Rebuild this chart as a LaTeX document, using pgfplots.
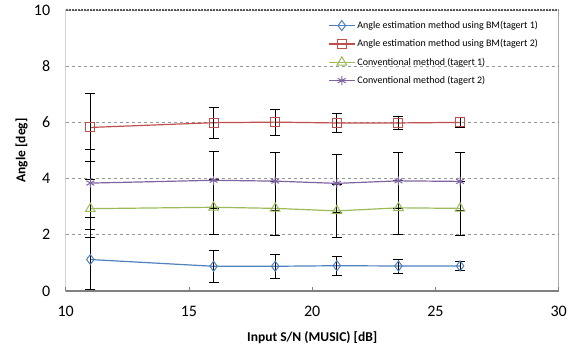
\documentclass[border=0pt]{standalone}
\usepackage{pgfplots}
\pgfplotsset{compat=1.18}
\usepackage{fontspec}
\setmainfont{Carlito}
\definecolor{cblue}{HTML}{4F81BD}
\definecolor{cred}{HTML}{C0504D}
\definecolor{cgreen}{HTML}{9BBB59}
\definecolor{cpurple}{HTML}{8064A2}
\definecolor{gridc}{HTML}{969696}
\definecolor{axc}{HTML}{808080}
\begin{document}
\begin{tikzpicture}
\begin{axis}[
  scale only axis,
  width=493pt, height=281pt,
  xmin=10, xmax=30, ymin=0, ymax=10,
  xtick={10,15,20,25,30}, ytick={0,2,4,6,8,10},
  axis line style={draw=none},
  ymajorgrids,
  grid style={gridc, dash pattern=on 3pt off 3pt, line width=0.8pt},
  x tick style={axc, line width=0.8pt},
  xtick pos=bottom, tick align=inside,
  major tick length=4pt,
  y tick style={draw=none},
  ticklabel style={font=\fontsize{16}{19}\selectfont},
  /pgf/number format/assume math mode=true,
  xticklabel style={yshift=-12pt},
  yticklabel style={xshift=-12pt},
  xlabel={\textbf{Input S/N (MUSIC) [dB]}},
  ylabel={\textbf{Angle [deg]}},
  label style={font=\fontsize{13.5}{16}\selectfont},
  xlabel style={at={(axis description cs:0.5,0)}, anchor=center, yshift=-46.7pt},
  ylabel style={at={(axis description cs:0,0.5)}, anchor=center, rotate=0, yshift=44pt},
  legend style={draw=none, fill=none, at={(rel axis cs:0.526,0.975)}, anchor=north west,
    font=\fontsize{10}{12}\selectfont, row sep=5.5pt},
  legend cell align=left,
  legend image code/.code={\draw[#1] (0pt,0pt) -- (26pt,0pt); \draw[#1, only marks] plot coordinates {(13pt,0pt)};},
  every axis plot/.append style={line width=1.2pt},
  error bars/y dir=both, error bars/y explicit,
  error bars/error bar style={black, line width=0.9pt, solid},
  error bars/error mark options={rotate=90, mark size=5pt, black, line width=0.9pt},
]
\addplot[cblue, mark=diamond, mark size=5pt, mark options={solid, fill=none, line width=1pt}]
  coordinates {(11,1.12) +- (0,1.07) (16,0.88) +- (0,0.58) (18.5,0.88) +- (0,0.43) (21,0.90) +- (0,0.33) (23.5,0.89) +- (0,0.25) (26,0.89) +- (0,0.17)};
\addlegendentry{Angle estimation method using BM(tagert 1)}
\addplot[cred, mark=square, mark size=4.5pt, mark options={solid, fill=none, line width=1pt}]
  coordinates {(11,5.82) +- (0,1.2) (16,5.99) +- (0,0.55) (18.5,6.01) +- (0,0.46) (21,5.98) +- (0,0.33) (23.5,5.98) +- (0,0.24) (26,6.0) +- (0,0.17)};
\addlegendentry{Angle estimation method using BM(tagert 2)}
\addplot[cgreen, mark=triangle, mark size=5.5pt, mark options={solid, fill=none, line width=1pt}]
  coordinates {(11,2.93) +- (0,1.03) (16,2.98) +- (0,0.98) (18.5,2.94) +- (0,0.97) (21,2.85) +- (0,0.95) (23.5,2.96) +- (0,0.96) (26,2.94) +- (0,0.97)};
\addlegendentry{Conventional method (tagert 1)}
\addplot[cpurple, mark=asterisk, mark size=4.5pt, mark options={solid, fill=none, line width=1pt}]
  coordinates {(11,3.84) +- (0,1.21) (16,3.94) +- (0,1.02) (18.5,3.91) +- (0,1.03) (21,3.83) +- (0,1.03) (23.5,3.92) +- (0,1.0) (26,3.9) +- (0,1.02)};
\addlegendentry{Conventional method (tagert 2)}
\draw[axc, line width=1.2pt] (rel axis cs:0,1) -- (rel axis cs:0,0) -- (rel axis cs:1,0) -- (rel axis cs:1,1);
\draw[black!65, dash pattern=on 2pt off 1pt, line width=1.2pt] (rel axis cs:0,1) -- (rel axis cs:1,1);
\end{axis}
\path (-65.7pt,-60pt) rectangle (515.3pt,291pt);
\end{tikzpicture}
\end{document}
